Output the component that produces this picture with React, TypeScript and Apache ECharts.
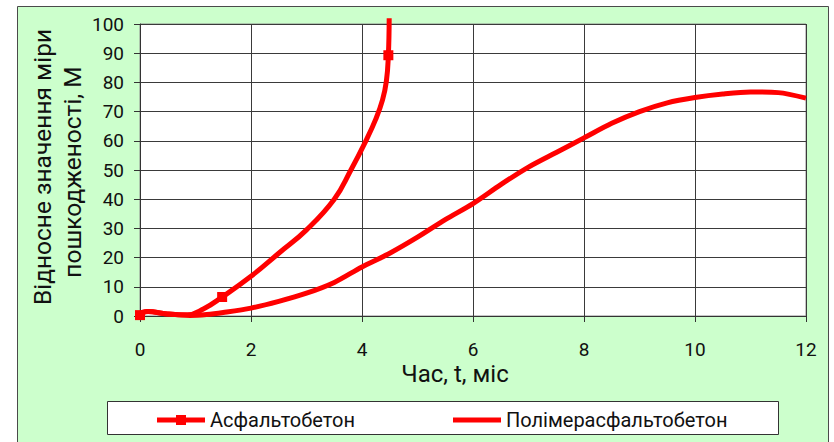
import React, { useEffect, useRef } from "react";
import * as echarts from "echarts";

// Time, months
const asphaltT = [0, 0.12, 0.5, 0.85, 1.15, 1.48, 2, 2.5, 3, 3.5, 3.8, 4.07, 4.25, 4.37, 4.44, 4.475, 4.49];
// Relative damage measure, M
const asphaltM = [0.3, 1.5, 0.7, 0.4, 2.5, 6.5, 13.6, 21.5, 29.5, 40, 50, 60, 67.5, 74, 80.5, 89.3, 102];
// Measured points shown with square markers
const asphaltMarkedT = [0, 1.48, 4.475];

const polymerT = [0, 0.15, 0.5, 0.9, 1.2, 1.5, 2, 2.5, 3, 3.5, 4, 4.5, 5, 5.5, 6, 6.5, 7, 7.5, 8, 8.5, 9, 9.5, 10, 10.5, 11, 11.5, 12];
const polymerM = [1.0, 1.5, 0.7, 0.2, 0.5, 1.2, 2.7, 5, 7.8, 11.5, 16.8, 21.5, 27, 33, 38.5, 45, 51, 56, 61, 66, 70, 73, 74.8, 76, 76.7, 76.5, 74.6];

const seriesNames = ["Асфальтобетон", "Полімерасфальтобетон"];
const xTitle = "Час, t, міс";
const yTitleLines = ["Відносне значення міри", "пошкодженості, M"];

const FONT = "Roboto, 'Liberation Sans', Arial, sans-serif";
const RED = "#ff0000";
// Legend key: thick line with a square marker in the middle
const MARKED_LINE_ICON = "path://M0,3.5H19V1H29V3.5H48V8.5H29V11H19V8.5H0Z";

export default function App() {
  const ref = useRef<HTMLDivElement>(null);

  useEffect(() => {
    document.body.style.margin = "0";
    if (!ref.current) return;
    const chart = echarts.init(ref.current, null, { renderer: "svg" });

    const marked = new Set(asphaltMarkedT);
    const asphaltData = asphaltT.map((t, i) => ({
      value: [t, asphaltM[i]],
      symbol: marked.has(t) ? "rect" : "none",
    }));
    const polymerData = polymerT.map((t, i) => [t, polymerM[i]]);

    const axisCommon = {
      type: "value",
      z: 1,
      axisLine: { show: true, lineStyle: { color: "#333333", width: 1 } },
      axisTick: { show: true, length: 6, inside: false, lineStyle: { color: "#333333" } },
      splitLine: { show: true, lineStyle: { color: "#3a3a3a", width: 1 } },
    };

    chart.setOption({
      animation: false,
      backgroundColor: "#ffffff",
      textStyle: { fontFamily: FONT },
      grid: {
        left: 140,
        right: 28,
        top: 24,
        bottom: 126,
        show: true,
        z: 0,
        backgroundColor: "#ffffff",
        borderColor: "#8c8c8c",
        borderWidth: 1,
      },
      xAxis: {
        ...axisCommon,
        min: 0,
        max: 12,
        interval: 2,
        axisLabel: { color: "#111111", fontSize: 19, margin: 24, fontFamily: FONT },
      },
      yAxis: {
        ...axisCommon,
        min: 0,
        max: 100,
        interval: 10,
        axisLabel: { color: "#111111", fontSize: 19, margin: 16, fontFamily: FONT },
      },
      legend: [
        {
          data: [{ name: seriesNames[0], icon: MARKED_LINE_ICON }],
          left: 152,
          top: 405,
          itemWidth: 48,
          itemHeight: 12,
          z: 5,
          textStyle: { fontSize: 20, color: "#111111", fontFamily: FONT },
        },
        {
          data: [{ name: seriesNames[1], icon: "rect" }],
          left: 448,
          top: 405,
          itemWidth: 48,
          itemHeight: 5,
          z: 5,
          textStyle: { fontSize: 20, color: "#111111", fontFamily: FONT },
        },
      ],
      graphic: [
        {
          type: "rect",
          z: -10,
          shape: { x: 17.5, y: 6.5, width: 811, height: 450 },
          style: { fill: "#ccffcc", stroke: "#4a4a4a", lineWidth: 1 },
        },
        {
          type: "rect",
          z: 1,
          shape: { x: 107.5, y: 401.5, width: 671, height: 33 },
          style: { fill: "#ffffff", stroke: "#333333", lineWidth: 1 },
        },
        {
          type: "text",
          z: 5,
          x: 455,
          y: 374,
          style: {
            text: xTitle,
            font: `24px ${FONT}`,
            fill: "#111111",
            align: "center",
            verticalAlign: "middle",
          },
        },
        {
          type: "text",
          z: 5,
          x: 42,
          y: 167,
          rotation: Math.PI / 2,
          style: {
            text: yTitleLines[0],
            font: `24.5px ${FONT}`,
            fill: "#111111",
            align: "center",
            verticalAlign: "middle",
          },
        },
        {
          type: "text",
          z: 5,
          x: 72,
          y: 172,
          rotation: Math.PI / 2,
          style: {
            text: yTitleLines[1],
            font: `24.5px ${FONT}`,
            fill: "#111111",
            align: "center",
            verticalAlign: "middle",
          },
        },
      ],
      series: [
        {
          name: seriesNames[0],
          type: "line",
          data: asphaltData,
          smooth: 0.45,
          clip: false,
          symbol: "rect",
          symbolSize: 10,
          showSymbol: true,
          itemStyle: { color: RED },
          lineStyle: { color: RED, width: 5 },
          z: 4,
        },
        {
          name: seriesNames[1],
          type: "line",
          data: polymerData,
          smooth: 0.3,
          clip: false,
          symbol: "none",
          itemStyle: { color: RED },
          lineStyle: { color: RED, width: 5 },
          z: 3,
        },
      ],
    });

    return () => chart.dispose();
  }, []);

  return <div ref={ref} style={{ width: 834, height: 442 }} />;
}
